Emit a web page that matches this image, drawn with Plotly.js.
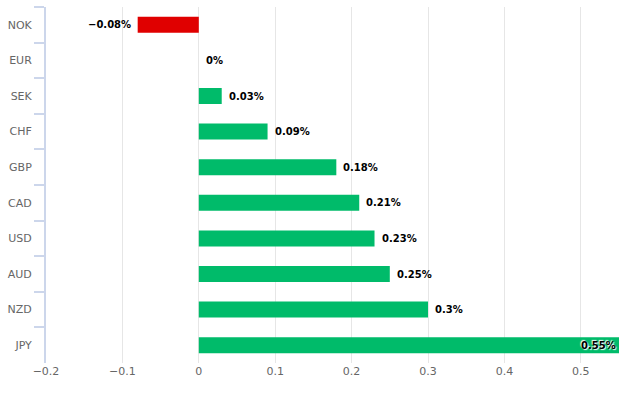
<!DOCTYPE html>
<html>
<head>
<meta charset="utf-8">
<script src="https://cdn.plot.ly/plotly-3.0.1.min.js"></script>
<style>html,body{margin:0;padding:0;background:#fff;}#chart{width:630px;height:403px;}</style>
</head>
<body>
<div id="chart"></div>
<script>
const currencies = ['NOK','EUR','SEK','CHF','GBP','CAD','USD','AUD','NZD','JPY'];
const changes = [-0.08, 0, 0.03, 0.09, 0.18, 0.21, 0.23, 0.25, 0.3, 0.55];
const xTickValues = [-0.2, -0.1, 0, 0.1, 0.2, 0.3, 0.4, 0.5];

const labels = changes.map(v => (String(v) + '%').replace('-', '\u2212'));
const colors = changes.map(v => v < 0 ? '#e00000' : '#00bb6a');

const trace = {
  type: 'bar',
  orientation: 'h',
  y: currencies,
  x: changes,
  marker: {color: colors, line: {width: 0}},
  hoverinfo: 'none'
};

const annotations = changes.map((v, i) => {
  const inside = v >= 0.5;
  const neg = v < 0;
  return {
    x: v, y: currencies[i], xref: 'x', yref: 'y',
    text: '<b>' + labels[i] + '</b>',
    showarrow: false,
    xanchor: (inside || neg) ? 'right' : 'left',
    yanchor: 'middle',
    xshift: inside ? -1 : (neg ? -5 : 5),
    yshift: 0,
    font: {family: 'DejaVu Sans', size: 10, color: '#000000',
           shadow: inside ? '1px 1px 1px #ffffff, -1px -1px 1px #ffffff' : 'none'}
  };
});

const layout = {
  width: 630, height: 403,
  margin: {l: 46, r: 11, t: 7, b: 40},
  paper_bgcolor: '#ffffff', plot_bgcolor: '#ffffff',
  showlegend: false,
  bargap: 0.55,
  font: {family: 'DejaVu Sans', size: 11, color: '#666666'},
  annotations: annotations,
  xaxis: {
    range: [-0.2, 0.55],
    tickvals: xTickValues,
    ticktext: xTickValues.map(v => String(v).replace('-', '\u2212')),
    showgrid: true, gridcolor: '#e6e6e6', gridwidth: 1,
    zeroline: false, showline: false, ticks: '',
    tickfont: {family: 'DejaVu Sans', size: 11, color: '#666666'}
  },
  yaxis: {
    autorange: 'reversed',
    showgrid: false, zeroline: false,
    showline: true, linecolor: '#ccd6eb', linewidth: 2,
    ticks: 'outside', tickson: 'boundaries', ticklen: 10, tickcolor: '#ccd6eb', tickwidth: 2,
    ticklabelstandoff: 10,
    tickfont: {family: 'DejaVu Sans', size: 11, color: '#666666'}
  }
};

Plotly.newPlot('chart', [trace], layout, {staticPlot: true, displayModeBar: false});
</script>
</body>
</html>
